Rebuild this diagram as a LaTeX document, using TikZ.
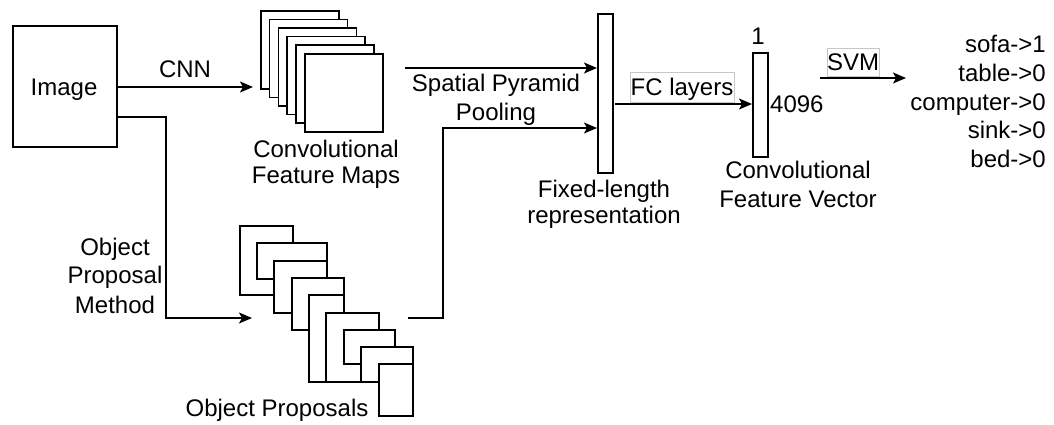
\documentclass[tikz,border=0pt]{standalone}
\usepackage{fontspec}
\setmainfont{Liberation Sans}
\usetikzlibrary{arrows.meta}
\begin{document}
\begin{tikzpicture}[x=1pt,y=-1pt,
  box/.style={draw, line width=1.5pt, fill=white, inner sep=0pt, anchor=north west},
  lbl/.style={inner sep=0pt, anchor=base, font=\fontsize{24}{29}\selectfont},
  arr/.style={line width=1.5pt, -{Stealth[length=13pt,width=11pt,inset=3pt]}},
  tag/.style={draw=black!22, line width=0.8pt, inner sep=0pt, fill=white}]
\useasboundingbox (0,0) rectangle (1054,424);

% image box
\node[box, minimum width=104pt, minimum height=121pt] (img) at (12,25) {};
\node[lbl] (imgt) at (64,95) {Image};

% feature maps
\foreach \i in {0,...,5}{
  \node[box, minimum width=78pt, minimum height=78pt] (fm\i) at (260+8.8*\i, 10+8.6*\i) {};
}
\node[lbl] (fmt1) at (326,157) {Convolutional};
\node[lbl] (fmt2) at (326,183) {Feature Maps};

% object proposals
\node[box, minimum width=53pt, minimum height=69pt] (op1) at (239,225) {};
\node[box, minimum width=70pt, minimum height=36pt] (op2) at (256,242) {};
\node[box, minimum width=53pt, minimum height=52pt] (op3) at (273,260) {};
\node[box, minimum width=52pt, minimum height=52pt] (op4) at (291,277) {};
\node[box, minimum width=35pt, minimum height=87pt] (op5) at (308,294) {};
\node[box, minimum width=53pt, minimum height=69pt] (op6) at (325,312) {};
\node[box, minimum width=51pt, minimum height=34pt] (op7) at (343,329) {};
\node[box, minimum width=52pt, minimum height=35pt] (op8) at (360,346) {};
\node[box, minimum width=34pt, minimum height=52pt] (op9) at (378,363) {};
\node[lbl] (opt) at (277,416) {Object Proposals};

\node[lbl] (opm1) at (115,255) {Object};
\node[lbl] (opm2) at (115,283) {Proposal};
\node[lbl] (opm3) at (115,313) {Method};

% fixed-length bar
\node[box, minimum width=15pt, minimum height=159pt] (fl) at (597,13) {};
\node[lbl] (flt1) at (604,197) {Fixed-length};
\node[lbl] (flt2) at (604,223) {representation};

% feature vector bar
\node[box, minimum width=15pt, minimum height=104pt] (fcv) at (752,52) {};
\node[lbl] (one) at (758,44) {1};
\node[lbl, anchor=base west] (dim) at (770,112) {4096};
\node[lbl] (fvt1) at (798,178) {Convolutional};
\node[lbl] (fvt2) at (798,207) {Feature Vector};

% labels on arrows
\node[lbl] (cnn) at (185,77) {CNN};
\node[lbl] (spp1) at (496,91) {Spatial Pyramid};
\node[lbl] (spp2) at (496,120) {Pooling};
\node[tag, minimum width=104pt, minimum height=30pt] (fcbox) at (682,87) {};
\node[lbl] (fct) at (682,95) {FC layers};
\node[tag, minimum width=52pt, minimum height=28pt] (svbox) at (853,62) {};
\node[lbl] (svt) at (853,70) {SVM};

% results
\node[lbl, anchor=base east] (r1) at (1046,52) {sofa->1};
\node[lbl, anchor=base east] (r2) at (1046,81) {table->0};
\node[lbl, anchor=base east] (r3) at (1046,110) {computer->0};
\node[lbl, anchor=base east] (r4) at (1046,138) {sink->0};
\node[lbl, anchor=base east] (r5) at (1046,167) {bed->0};

% connectors
\coordinate (cnne) at (253,87);
\draw[arr] (img.east |- cnne) -- (cnne);

\coordinate (opa) at (166,117);
\coordinate (opb) at (166,318);
\coordinate (opc) at (252,318);
\draw[arr] (img.east |- opa) -- (opa) -- (opb) -- (opc);

\coordinate (sps) at (405,68);
\draw[arr] (sps) -- (sps -| fl.west);

\coordinate (pra) at (408,318);
\coordinate (prb) at (443,318);
\coordinate (prc) at (443,128);
\draw[arr] (pra) -- (prb) -- (prc) -- (prc -| fl.west);

\coordinate (fcs) at (615,104);
\draw[arr] (fcs) -- (fcs -| fcv.west);

\coordinate (svs) at (820,78);
\coordinate (sve) at (906,78);
\draw[arr] (svs) -- (sve);
\end{tikzpicture}
\end{document}
